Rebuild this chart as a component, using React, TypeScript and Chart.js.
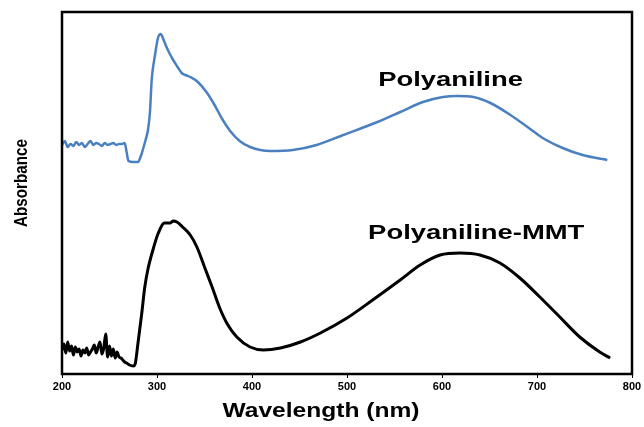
import React, { useEffect, useRef } from "react";
import { Chart, registerables } from "chart.js";

Chart.register(...registerables);

const xTicks = [200, 300, 400, 500, 600, 700, 800];

const paniWavelength = [
  200, 203, 206, 209, 212, 215, 218, 221, 224, 227, 230, 233, 236, 239, 242, 245, 248, 251, 254, 257,
  260, 263, 266, 268, 270, 275, 280, 283, 285, 288, 290.5, 292.6, 294.4, 297.9, 301, 304, 307, 310,
  313, 317, 321, 326, 330, 335, 343, 352, 360, 368, 377, 387, 398, 419, 443, 468, 496, 532, 556, 580,
  601, 616, 633, 651, 672, 690, 706, 727, 748, 774,
];
const paniAbsorbance = [
  2.29, 2.33, 2.27, 2.3, 2.28, 2.32, 2.29, 2.31, 2.27, 2.3, 2.33, 2.29, 2.31, 2.3, 2.28, 2.31, 2.29, 2.3, 2.31, 2.29,
  2.3, 2.3, 2.31, 2.22, 2.13, 2.12, 2.12, 2.18, 2.24, 2.34, 2.44, 2.62, 2.94, 3.19, 3.36, 3.4, 3.34, 3.27,
  3.21, 3.14, 3.08, 3.01, 2.99, 2.97, 2.92, 2.82, 2.7, 2.56, 2.43, 2.33, 2.27, 2.23, 2.24, 2.29, 2.39, 2.52, 2.62, 2.72,
  2.77, 2.78, 2.77, 2.71, 2.59, 2.47, 2.36, 2.26, 2.19, 2.14,
];

const mmtWavelength = [
  200, 202, 204, 206, 208, 210, 212, 214, 216, 218, 220, 222, 224, 226, 228, 230, 232, 234, 236, 238,
  240, 242, 244, 246, 248, 250, 252, 254, 256, 258, 260, 262, 264, 266, 268, 271, 275, 277, 280, 284,
  287, 290.5, 296, 301, 308, 314, 317, 321, 327, 335, 342, 350, 358, 366, 374, 384, 398, 412, 430, 451,
  472, 500, 527, 556, 577, 598, 619, 640, 661, 682, 703, 724, 745, 766, 777,
];
const mmtAbsorbance = [
  0.24, 0.3, 0.21, 0.32, 0.23, 0.28, 0.19, 0.27, 0.22, 0.25, 0.18, 0.24, 0.21, 0.26, 0.19, 0.22, 0.25, 0.29, 0.21, 0.27,
  0.32, 0.2, 0.26, 0.4, 0.17, 0.28, 0.18, 0.25, 0.16, 0.22, 0.17, 0.16, 0.14, 0.12, 0.11, 0.09, 0.08, 0.1, 0.31, 0.61,
  0.86, 1.05, 1.25, 1.4, 1.51, 1.51, 1.53, 1.52, 1.47, 1.39, 1.27, 1.07, 0.87, 0.66, 0.5, 0.37, 0.27, 0.24, 0.26, 0.32,
  0.41, 0.56, 0.74, 0.94, 1.09, 1.19, 1.21, 1.19, 1.11, 0.96, 0.77, 0.57, 0.37, 0.22, 0.16,
];

const seriesLabels = ["Polyaniline", "Polyaniline-MMT"];
// label anchor points in data coordinates (wavelength, absorbance)
const labelWavelength = [609, 636];
const labelAbsorbance = [2.94, 1.41];

const xTitle = "Wavelength (nm)";
const yTitle = "Absorbance";

const framePlugin = {
  id: "frameAndText",
  afterDatasetsDraw(chart: any) {
    const { ctx, chartArea, scales } = chart;
    ctx.save();
    ctx.strokeStyle = "#000";
    ctx.lineWidth = 2.5;
    ctx.strokeRect(chartArea.left, chartArea.top, chartArea.right - chartArea.left, chartArea.bottom - chartArea.top);

    ctx.fillStyle = "#000";
    ctx.textAlign = "center";
    ctx.textBaseline = "middle";
    ctx.font = "bold 20px 'Liberation Sans', Arial, sans-serif";
    for (let i = 0; i < seriesLabels.length; i++) {
      const px = scales.x.getPixelForValue(labelWavelength[i]);
      const py = scales.y.getPixelForValue(labelAbsorbance[i]);
      ctx.save();
      ctx.translate(px, py);
      ctx.scale(1.37, 1);
      ctx.fillText(seriesLabels[i], 0, 0);
      ctx.restore();
    }

    // x title
    ctx.save();
    ctx.font = "bold 21px 'Liberation Sans', Arial, sans-serif";
    ctx.translate(321, 411);
    ctx.scale(1.17, 1);
    ctx.fillText(xTitle, 0, 0);
    ctx.restore();

    // y title (narrow, rotated)
    ctx.save();
    ctx.font = "bold 19px 'Liberation Sans', Arial, sans-serif";
    ctx.translate(22, 183);
    ctx.rotate(-Math.PI / 2);
    ctx.scale(0.8, 1);
    ctx.fillText(yTitle, 0, 0);
    ctx.restore();

    ctx.restore();
  },
};

export default function App() {
  const canvasRef = useRef<HTMLCanvasElement | null>(null);

  useEffect(() => {
    document.body.style.margin = "0";
    const canvas = canvasRef.current;
    if (!canvas) return;
    const chart = new Chart(canvas, {
      type: "line",
      data: {
        datasets: [
          {
            label: seriesLabels[0],
            data: paniWavelength.map((x, i) => ({ x, y: paniAbsorbance[i] })),
            borderColor: "#4a80c0",
            borderWidth: 2.5,
            pointRadius: 0,
            cubicInterpolationMode: "monotone",
            borderJoinStyle: "round",
          },
          {
            label: seriesLabels[1],
            data: mmtWavelength.map((x, i) => ({ x, y: mmtAbsorbance[i] })),
            borderColor: "#000000",
            borderWidth: 3,
            pointRadius: 0,
            cubicInterpolationMode: "monotone",
            borderJoinStyle: "round",
          },
        ],
      },
      options: {
        animation: false,
        responsive: false,
        maintainAspectRatio: false,
        layout: { padding: { left: 62, right: 12, top: 12, bottom: 0 } },
        plugins: { legend: { display: false }, tooltip: { enabled: false } },
        scales: {
          x: {
            type: "linear",
            min: 200,
            max: 800,
            afterBuildTicks: (scale: any) => {
              scale.ticks = xTicks.map((v) => ({ value: v }));
            },
            afterFit: (scale: any) => {
              scale.height = 53;
            },
            border: { display: false },
            grid: {
              display: true,
              drawOnChartArea: false,
              drawTicks: true,
              tickLength: 4,
              color: "#000",
              lineWidth: 1,
            },
            ticks: {
              padding: 2,
              color: "#000",
              font: { family: "'Liberation Sans', Arial, sans-serif", size: 11, weight: "bold" },
              maxRotation: 0,
            },
          },
          y: {
            type: "linear",
            min: 0,
            max: 3.62,
            display: false,
          },
        },
      },
      plugins: [framePlugin],
    });
    return () => chart.destroy();
  }, []);

  return (
    <div style={{ width: 644, height: 427, background: "#fff" }}>
      <canvas ref={canvasRef} width={644} height={427} style={{ display: "block" }} />
    </div>
  );
}
